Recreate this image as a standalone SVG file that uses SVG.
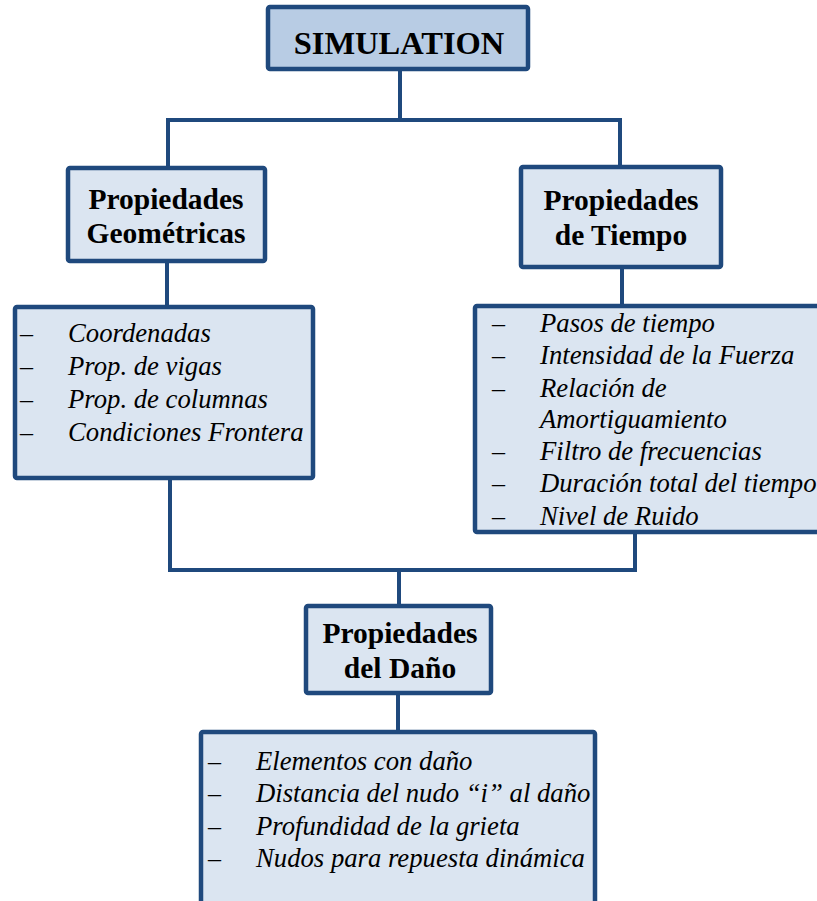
<svg xmlns="http://www.w3.org/2000/svg" width="817" height="901" viewBox="0 0 817 901">
<style>
.box{fill:#dbe5f1;stroke:#1f497d;stroke-width:4.5}
.top{fill:#b8cce4}
.ln{stroke:#1f497d;stroke-width:4;fill:none;stroke-linecap:square}
.h{font-family:"Liberation Serif","Times New Roman",serif;font-weight:bold;font-size:29.5px;fill:#000;text-anchor:middle}
.t{font-family:"Liberation Serif","Times New Roman",serif;font-style:italic;font-size:26.7px;fill:#000}
.d{font-family:"Liberation Serif","Times New Roman",serif;font-size:26px;fill:#000}
</style>
<rect width="817" height="901" fill="#fff"/>
<g id="connectors">
<path class="ln" d="M400,71V120M168,120H620M168,120V166M620,120V165M167,263V305M622,269V304M170,480V570M635,534V570M170,570H635M399,570V604M398,695V730"/>
</g>
<g id="simulation">
<rect class="box top" x="268" y="7" width="260" height="62" rx="2"/>
<text class="h" x="399" y="54" style="font-size:32.5px">SIMULATION</text>
</g>
<g id="geometricas">
<rect class="box" x="68" y="168" width="197" height="93" rx="2"/>
<text class="h" x="166" y="209">Propiedades</text>
<text class="h" x="166" y="243">Geométricas</text>
</g>
<g id="tiempo">
<rect class="box" x="521" y="167" width="200" height="100" rx="2"/>
<text class="h" x="621" y="210">Propiedades</text>
<text class="h" x="621" y="245">de Tiempo</text>
</g>
<g id="lista-geometricas">
<rect class="box" x="15" y="307" width="298" height="171" rx="2"/>
<text class="d" x="20" y="342">–</text><text class="t" x="68" y="342">Coordenadas</text>
<text class="d" x="20" y="375">–</text><text class="t" x="68" y="375">Prop. de vigas</text>
<text class="d" x="20" y="408">–</text><text class="t" x="68" y="408">Prop. de columnas</text>
<text class="d" x="20" y="441">–</text><text class="t" x="68" y="441">Condiciones Frontera</text>
</g>
<g id="lista-tiempo">
<rect class="box" x="475" y="306" width="360" height="226" rx="2"/>
<text class="d" x="492" y="332">–</text><text class="t" x="540" y="332">Pasos de tiempo</text>
<text class="d" x="492" y="364">–</text><text class="t" x="540" y="364">Intensidad de la Fuerza</text>
<text class="d" x="492" y="397">–</text><text class="t" x="540" y="397">Relación de</text>
<text class="t" x="540" y="428">Amortiguamiento</text>
<text class="d" x="492" y="460">–</text><text class="t" x="540" y="460">Filtro de frecuencias</text>
<text class="d" x="492" y="492">–</text><text class="t" x="540" y="492">Duración total del tiempo</text>
<text class="d" x="492" y="525">–</text><text class="t" x="540" y="525">Nivel de Ruido</text>
</g>
<g id="dano">
<rect class="box" x="306" y="606" width="185" height="87" rx="2"/>
<text class="h" x="400" y="643">Propiedades</text>
<text class="h" x="400" y="678">del Daño</text>
</g>
<g id="lista-dano">
<rect class="box" x="201" y="732" width="394" height="200" rx="2"/>
<text class="d" x="208" y="770">–</text><text class="t" x="256" y="770">Elementos con daño</text>
<text class="d" x="208" y="802">–</text><text class="t" x="256" y="802">Distancia del nudo “i” al daño</text>
<text class="d" x="208" y="835">–</text><text class="t" x="256" y="835">Profundidad de la grieta</text>
<text class="d" x="208" y="867">–</text><text class="t" x="256" y="867">Nudos para repuesta dinámica</text>
</g>
</svg>
